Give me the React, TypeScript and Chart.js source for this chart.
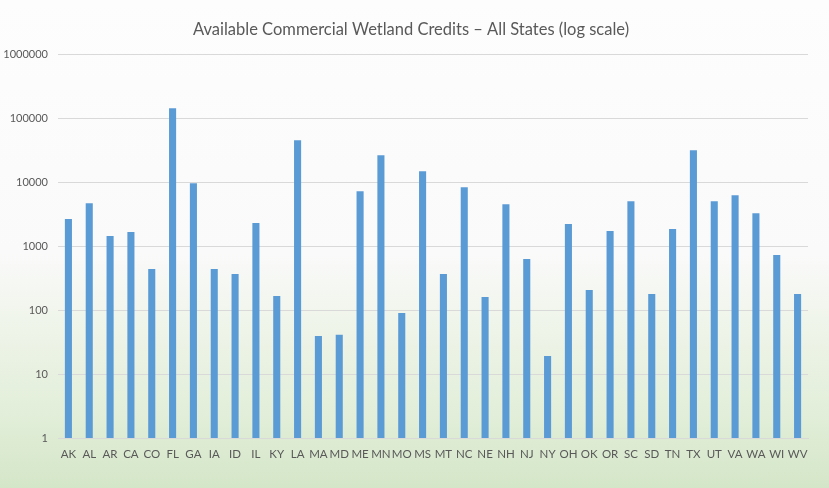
import React, { useEffect, useRef } from "react";
import { Chart, registerables } from "chart.js";

Chart.register(...registerables);

const states = ["AK","AL","AR","CA","CO","FL","GA","IA","ID","IL","KY","LA","MA","MD","ME","MN","MO","MS","MT","NC","NE","NH","NJ","NY","OH","OK","OR","SC","SD","TN","TX","UT","VA","WA","WI","WV"];
const credits = [2674,4754,1450,1675,442,145000,9770,442,370,2316,167,45800,39.7,41.2,7320,26700,90.8,15000,370,8450,161.6,4586,634,19.3,2234,208,1737,5108,180,1866,32000,5108,6340,3318,732,180];
const yTicks = [1,10,100,1000,10000,100000,1000000];
const titleText = "Available Commercial Wetland Credits \u2013 All States (log scale)";

export default function App() {
  const ref = useRef<HTMLCanvasElement | null>(null);
  useEffect(() => {
    if (!ref.current) return;
    const font = "Lato, 'Liberation Sans', sans-serif";
    const chart = new Chart(ref.current, {
      type: "bar",
      data: {
        labels: states,
        datasets: [{
          data: credits,
          backgroundColor: "#5B9BD5",
          barPercentage: 0.34,
          categoryPercentage: 1,
        }],
      },
      options: {
        animation: false,
        responsive: false,
        maintainAspectRatio: false,
        layout: { padding: { left: 0, right: 7, top: 0, bottom: 0 } },
        plugins: {
          legend: { display: false },
          tooltip: { enabled: false },
          title: {
            display: true,
            text: titleText,
            color: "#595959",
            font: { family: font, size: 16.5, weight: "normal" },
            padding: { top: 19.5, bottom: 15.5 },
          },
        },
        scales: {
          x: {
            grid: { display: false, drawTicks: false },
            border: { display: true, color: "#d9d9d9" },
            ticks: { color: "#595959", font: { family: font, size: 11.5 }, padding: 9, autoSkip: false, maxRotation: 0 },
            afterFit: (s: any) => { s.height = 50; },
          },
          y: {
            type: "logarithmic",
            min: 1,
            max: 1000000,
            grid: { color: "#d9d9d9", drawTicks: false },
            border: { display: false },
            ticks: {
              color: "#595959",
              font: { family: font, size: 11 },
              padding: 10,
              callback: (v: any) => String(v),
            },
            afterBuildTicks: (s: any) => { s.ticks = yTicks.map((v) => ({ value: v })); },
            afterFit: (s: any) => { s.width = 58; },
          },
          yRightSpacer: {
            type: "linear",
            position: "right",
            display: true,
            grid: { display: false, drawTicks: false },
            border: { display: false },
            ticks: { display: false },
            afterFit: (s: any) => { s.width = 14; },
          },
        },
      },
    });
    return () => chart.destroy();
  }, []);
  return (
    <div style={{ position: "fixed", left: 0, top: 0, width: 829, height: 488,
      background: "linear-gradient(to bottom, #fdfdfd 0%, #fafafa 52%, #eef4e8 68%, #e2eed9 85%, #d4e6c8 100%)" }}>
      <canvas ref={ref} width={829} height={488} style={{ display: "block" }} />
    </div>
  );
}
